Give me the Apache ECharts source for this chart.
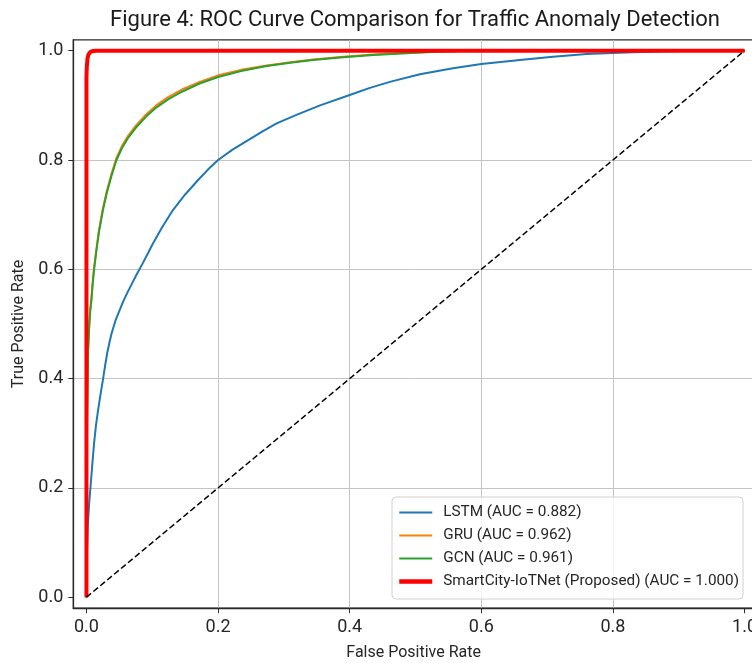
<!DOCTYPE html>
<html>
<head>
<meta charset="utf-8">
<script src="https://cdn.jsdelivr.net/npm/echarts@6/dist/echarts.min.js"></script>
<style>
html,body{margin:0;padding:0;background:#fff;}
#chart{width:752px;height:663px;}
</style>
</head>
<body>
<div id="chart"></div>
<script>
const titleText = 'Figure 4: ROC Curve Comparison for Traffic Anomaly Detection';
const xAxisName = 'False Positive Rate';
const yAxisName = 'True Positive Rate';
const tickValues = [0, 0.2, 0.4, 0.6, 0.8, 1.0];

const seriesNames = [
  'LSTM (AUC = 0.882)',
  'GRU (AUC = 0.962)',
  'GCN (AUC = 0.961)',
  'SmartCity-IoTNet (Proposed) (AUC = 1.000)'
];

const lstmFpr = [0, 0.0005, 0.001, 0.002, 0.004, 0.006, 0.009, 0.0116, 0.0145, 0.0177, 0.0215, 0.0253, 0.0285, 0.0314, 0.0345, 0.038, 0.044, 0.0506, 0.0557, 0.062, 0.0684, 0.076, 0.085, 0.0937, 0.100, 0.115, 0.1317, 0.150, 0.170, 0.185, 0.200, 0.222, 0.2457, 0.267, 0.289, 0.320, 0.355, 0.400, 0.4307, 0.461, 0.5067, 0.557, 0.600, 0.6587, 0.709, 0.760, 0.800, 0.850, 0.900, 1.0];
const lstmTpr = [0, 0.05, 0.09, 0.13, 0.17, 0.20, 0.245, 0.282, 0.315, 0.343, 0.372, 0.400, 0.425, 0.446, 0.464, 0.482, 0.506, 0.526, 0.541, 0.557, 0.572, 0.590, 0.610, 0.630, 0.645, 0.677, 0.709, 0.737, 0.764, 0.783, 0.800, 0.819, 0.8366, 0.852, 0.867, 0.883, 0.900, 0.919, 0.932, 0.943, 0.957, 0.968, 0.9757, 0.983, 0.989, 0.994, 0.996, 0.998, 0.9995, 1.0];

const gruFpr = [0, 0.0005, 0.001, 0.0018, 0.0025, 0.004, 0.0055, 0.0076, 0.0096, 0.0116, 0.0152, 0.019, 0.025, 0.031, 0.038, 0.0456, 0.054, 0.063, 0.075, 0.091, 0.106, 0.124, 0.145, 0.172, 0.200, 0.235, 0.274, 0.310, 0.344, 0.390, 0.436, 0.480, 0.530, 0.580, 1.0];
const gruTpr = [0, 0.21, 0.34, 0.41, 0.455, 0.495, 0.525, 0.548, 0.578, 0.603, 0.638, 0.672, 0.712, 0.744, 0.775, 0.804, 0.826, 0.844, 0.863, 0.884, 0.900, 0.915, 0.929, 0.943, 0.955, 0.965, 0.973, 0.979, 0.984, 0.989, 0.993, 0.996, 0.998, 1.0, 1.0];

const gcnFpr = [0, 0.0005, 0.001, 0.0018, 0.0025, 0.004, 0.0055, 0.0076, 0.0096, 0.0116, 0.0152, 0.019, 0.025, 0.031, 0.038, 0.0456, 0.054, 0.063, 0.075, 0.091, 0.106, 0.124, 0.145, 0.172, 0.200, 0.235, 0.274, 0.310, 0.344, 0.390, 0.436, 0.480, 0.530, 0.580, 1.0];
const gcnTpr = [0, 0.20, 0.33, 0.40, 0.45, 0.49, 0.52, 0.544, 0.575, 0.600, 0.635, 0.668, 0.708, 0.740, 0.771, 0.800, 0.822, 0.840, 0.859, 0.880, 0.896, 0.911, 0.925, 0.940, 0.952, 0.963, 0.972, 0.978, 0.983, 0.988, 0.992, 0.995, 0.998, 1.0, 1.0];

const proposedFpr = [0, 0, 0.0005, 0.0015, 0.003, 0.006, 0.010, 0.015, 1.0];
const proposedTpr = [0, 0.95, 0.97, 0.985, 0.993, 0.998, 0.9995, 1.0, 1.0];

const diagFpr = [0, 1];
const diagTpr = [0, 1];

const colors = ['#1f77b4', '#ff7f0e', '#2ca02c', '#ff0000'];
const FONT = 'Roboto';

function pairs(xs, ys) { return xs.map((x, i) => [x, ys[i]]); }

const chart = echarts.init(document.getElementById('chart'), null, {renderer: 'canvas'});

const tickFmt = v => Number(v).toFixed(1);

chart.setOption({
  animation: false,
  backgroundColor: '#ffffff',
  graphic: [{
    type: 'text',
    x: 415,
    y: 20,
    style: {
      text: titleText,
      fontFamily: FONT,
      fontSize: 22,
      fill: '#1a1a1a',
      textAlign: 'center',
      textVerticalAlign: 'middle'
    }
  }],
  grid: {
    left: 73.3,
    top: 39.8,
    right: -2,
    bottom: 54.8,
    containLabel: false,
    outerBoundsMode: 'none',
    show: true,
    borderColor: '#2a2a2a',
    borderWidth: 1.3,
    backgroundColor: 'transparent'
  },
  xAxis: {
    type: 'value',
    min: -0.02,
    max: 1.0144,
    name: xAxisName,
    nameLocation: 'middle',
    nameGap: 37,
    nameTextStyle: {fontFamily: FONT, fontSize: 16, color: '#262626'},
    axisLine: {show: true, onZero: false, lineStyle: {color: '#2a2a2a', width: 1.3}},
    axisTick: {show: true, inside: false, length: 5, customValues: tickValues, lineStyle: {color: '#2a2a2a', width: 1}},
    axisLabel: {customValues: tickValues, formatter: tickFmt, margin: 10, fontFamily: FONT, fontSize: 18, color: '#262626'},
    splitLine: {show: true, showMinLine: false, showMaxLine: false, lineStyle: {color: '#c4c4c4', width: 1}}
  },
  yAxis: {
    type: 'value',
    min: -0.02,
    max: 1.02,
    name: yAxisName,
    nameLocation: 'middle',
    nameGap: 43,
    nameRotate: 90,
    nameTextStyle: {fontFamily: FONT, fontSize: 16, color: '#262626'},
    axisLine: {show: true, onZero: false, lineStyle: {color: '#2a2a2a', width: 1.3}},
    axisTick: {show: true, inside: false, length: 5, customValues: tickValues, lineStyle: {color: '#2a2a2a', width: 1}},
    axisLabel: {customValues: tickValues, formatter: tickFmt, margin: 10, fontFamily: FONT, fontSize: 18, color: '#262626'},
    splitLine: {show: true, showMinLine: false, showMaxLine: false, lineStyle: {color: '#c4c4c4', width: 1}}
  },
  legend: {
    orient: 'vertical',
    left: 392,
    top: 497,
    padding: [8, 4, 10, 5],
    itemWidth: 33,
    itemHeight: 14,
    itemGap: 8,
    backgroundColor: 'rgba(255,255,255,0.8)',
    borderColor: '#d0d0d0',
    borderWidth: 1,
    borderRadius: 4,
    itemStyle: {opacity: 0},
    textStyle: {fontFamily: FONT, fontSize: 15.3, color: '#262626', padding: [0, 0, 0, 6]},
    data: [
      {name: seriesNames[0], lineStyle: {width: 2}},
      {name: seriesNames[1], lineStyle: {width: 2}},
      {name: seriesNames[2], lineStyle: {width: 2}},
      {name: seriesNames[3], lineStyle: {width: 4.5}}
    ]
  },
  series: [
    {name: seriesNames[0], type: 'line', data: pairs(lstmFpr, lstmTpr), symbol: 'none', color: colors[0], lineStyle: {width: 2}, z: 2},
    {name: seriesNames[1], type: 'line', data: pairs(gruFpr, gruTpr), symbol: 'none', color: colors[1], lineStyle: {width: 2}, z: 2},
    {name: seriesNames[2], type: 'line', data: pairs(gcnFpr, gcnTpr), symbol: 'none', color: colors[2], lineStyle: {width: 2}, z: 2},
    {name: seriesNames[3], type: 'line', data: pairs(proposedFpr, proposedTpr), symbol: 'none', color: colors[3], lineStyle: {width: 4}, z: 3},
    {name: 'Random', type: 'line', data: pairs(diagFpr, diagTpr), symbol: 'none', color: '#000', lineStyle: {width: 1.5, type: [6, 3]}, z: 3, silent: true}
  ]
});
</script>
</body>
</html>
